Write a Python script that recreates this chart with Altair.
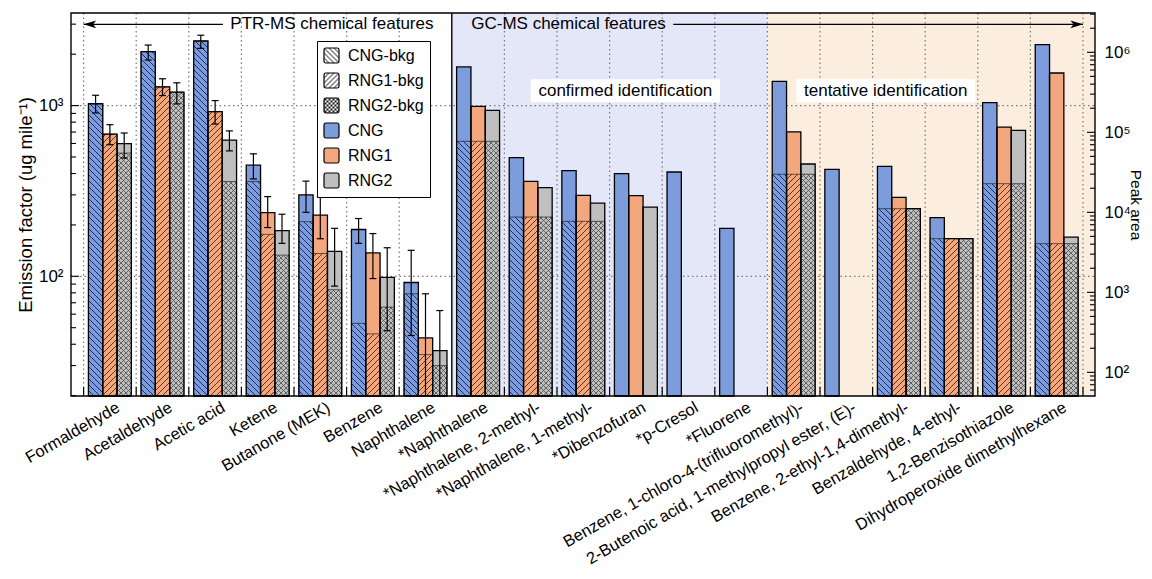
import json
import altair as alt
import pandas as pd
import jinja2

FONT = "Liberation Sans"

# ---------------- data ----------------
ptr_names = ["Formaldehyde", "Acetaldehyde", "Acetic acid", "Ketene",
             "Butanone (MEK)", "Benzene", "Naphthalene"]
gc_names = ["*Naphthalene", "*Naphthalene, 2-methyl-", "*Naphthalene, 1-methyl-",
            "*Dibenzofuran", "*p-Cresol", "*Fluorene",
            "Benzene, 1-chloro-4-(trifluoromethyl)-",
            "2-Butenoic acid, 1-methylpropyl ester, (E)-",
            "Benzene, 2-ethyl-1,4-dimethyl-", "Benzaldehyde, 4-ethyl-",
            "1,2-Benzisothiazole", "Dihydroperoxide dimethylhexane"]
series_names = ["CNG", "RNG1", "RNG2"]
legend_entries = ["CNG-bkg", "RNG1-bkg", "RNG2-bkg", "CNG", "RNG1", "RNG2"]

# PTR-MS emission factors (ug mile^-1): bar top, error-bar ends, background part
cng_ef = [1025, 2070, 2390, 448, 300, 188, 92]
rng1_ef = [681, 1288, 922, 236, 228, 137, 43.6]
rng2_ef = [598, 1198, 628, 185, 140, 98.7, 36.7]
cng_ef_lo = [906, 1848, 2165, 372, 237, 156, 45]
cng_ef_hi = [1150, 2263, 2584, 522, 361, 218, 142]
rng1_ef_lo = [590, 1145, 780, 193, 166, 97, 12]
rng1_ef_hi = [773, 1436, 1070, 293, 293, 178, 79]
rng2_ef_lo = [493, 1023, 543, 156, 87.6, 48, 12]
rng2_ef_hi = [691, 1360, 711, 231, 191, 147, 63]
cng_ef_bkg = [1025, 2070, 2390, 359, 209, 53, 79]
rng1_ef_bkg = [681, 1288, 922, 176, 136, 46, 34.8]
rng2_ef_bkg = [527, 1198, 359, 133, 83.5, 66, 30]

# GC-MS peak areas (None = not detected) and background peak area per feature
cng_pa = [6.56e5, 4.83e4, 3.32e4, 3.05e4, 3.19e4, 6.31e3, 4.34e5, 3.45e4, 3.76e4, 8.58e3, 2.35e5, 1.25e6]
rng1_pa = [2.11e5, 2.44e4, 1.63e4, 1.62e4, None, None, 1.01e5, None, 1.54e4, 4.69e3, 1.16e5, 5.51e5]
rng2_pa = [1.88e5, 2.04e4, 1.30e4, 1.16e4, None, None, 4.02e4, None, 1.11e4, 4.69e3, 1.06e5, 4.91e3]
bkg_pa = [7.72e4, 8.74e3, 7.72e3, None, None, None, 2.99e4, None, 1.11e4, 4.69e3, 2.28e4, 4.06e3]

left_major = [100, 1000]
right_major = [100, 1000, 10000, 100000, 1000000]

# ---------------- layout / style ----------------
W, H = 1024, 383
BAND = 52.6
XMIN = -0.5 - 12.6 / BAND
XMAX = XMIN + W / BAND
BW = 0.272
EF_DOMAIN = [19.9, 3487]
PA_DOMAIN = [50.6, 3.1e6]
ARROW_Y = 11.3

n_ptr = len(ptr_names)
n_conf = sum(1 for n in gc_names if n.startswith("*"))
all_names = ptr_names + gc_names
n_all = len(all_names)

POW_EXPR = "'10' + ['\u2070','\u00b9','\u00b2','\u00b3','\u2074','\u2075','\u2076'][round(log(datum.value)/LN10)]"

xs = alt.Scale(domain=[XMIN, XMAX], nice=False, zero=False)
ys_l = alt.Scale(type="log", domain=EF_DOMAIN, nice=False)
ys_r = alt.Scale(type="log", domain=PA_DOMAIN, nice=False)

X_AXIS = alt.Axis(values=list(range(n_all)), labelExpr=json.dumps(all_names) + "[datum.value]",
                  labelAngle=-30, labelAlign="right", labelBaseline="top", labelPadding=3,
                  labelOffset=4, ticks=False, grid=False, domain=False, title=None,
                  labelOverlap=False, labelFlush=False, labelBound=False, labelLimit=0,
                  labelFontSize=16.5)
L_AXIS = alt.Axis(orient="left", values=left_major, labelExpr=POW_EXPR,
                  title="Emission factor (ug mile\u207b\u00b9)", ticks=False, grid=False,
                  domain=False, labelPadding=8, titlePadding=3, titleFontSize=18.5)
R_AXIS = alt.Axis(orient="right", values=right_major, labelExpr=POW_EXPR, title="Peak area",
                  titleAngle=90, ticks=False, grid=False, domain=False, labelPadding=9,
                  titleX=40, titleY=H / 2, titleAlign="center", titleBaseline="middle",
                  titleFontSize=15.5)


def XQ(f):
    return alt.X(f"{f}:Q", scale=xs, axis=X_AXIS)


def YL(f):
    return alt.Y(f"{f}:Q", scale=ys_l, axis=L_AXIS)


def YR(f):
    return alt.Y(f"{f}:Q", scale=ys_r, axis=R_AXIS)


SOLID_EXPR = ("datum.series === 'CNG' ? '#7d9cdb' : "
              "(datum.series === 'RNG1' ? '#f3a77f' : '#bfbfbf')")
HATCH_EXPR = "'url(#hatch-' + lower(datum.series) + ')'"
legend_fills = ["url(#lg-cng)", "url(#lg-rng1)", "url(#lg-rng2)",
                "#7d9cdb", "#f3a77f", "#bfbfbf"]
ROUND_SQ = ("M-0.75,-1H0.75Q1,-1 1,-0.75V0.75Q1,1 0.75,1H-0.75"
            "Q-1,1 -1,0.75V-0.75Q-1,-1 -0.75,-1Z")

# ---------------- tables ----------------
ef = [cng_ef, rng1_ef, rng2_ef]
ef_lo = [cng_ef_lo, rng1_ef_lo, rng2_ef_lo]
ef_hi = [cng_ef_hi, rng1_ef_hi, rng2_ef_hi]
ef_bkg = [cng_ef_bkg, rng1_ef_bkg, rng2_ef_bkg]
ptr_rows = []
for i in range(n_ptr):
    for k, s in enumerate(series_names):
        ptr_rows.append({"idx": i, "k": k, "series": s, "value": ef[k][i],
                         "lo": ef_lo[k][i], "hi": ef_hi[k][i], "bkg": ef_bkg[k][i]})
ptr_df = pd.DataFrame(ptr_rows)

pa = [cng_pa, rng1_pa, rng2_pa]
gc_rows = []
for j in range(len(gc_names)):
    for k, s in enumerate(series_names):
        v = pa[k][j]
        if v is None:
            continue
        b = bkg_pa[j]
        gc_rows.append({"idx": n_ptr + j, "k": k, "series": s, "value": v,
                        "bkg": (min(b, v) if b is not None else None)})
gc_df = pd.DataFrame(gc_rows)


def minor(lo, hi):
    return [m * 10 ** e for e in range(0, 8) for m in range(2, 10) if lo <= m * 10 ** e <= hi]


one = pd.DataFrame({"a": [0]})


def bar_layers(df, Y):
    base = alt.Chart(df).transform_calculate(
        xl=f"datum.idx + (datum.k - 1) * {BW} - {BW / 2}",
        xr=f"datum.idx + (datum.k - 1) * {BW} + {BW / 2}",
        solid=SOLID_EXPR,
        hatch=HATCH_EXPR,
    )
    x2e = alt.X2("xr:Q")
    solid = base.mark_rect().encode(
        x=XQ("xl"), x2=x2e, y=Y("value"), y2=alt.value(H),
        fill=alt.Fill("solid:N", scale=None))
    hatch = base.transform_filter("isValid(datum.bkg)").mark_rect(
        stroke="#1a1a1a", strokeWidth=0.8, strokeOpacity=0.8).encode(
        x=XQ("xl"), x2=x2e, y=Y("bkg"), y2=alt.value(H),
        fill=alt.Fill("hatch:N", scale=None))
    outline = base.mark_rect(fillOpacity=0, stroke="black", strokeWidth=1.3).encode(
        x=XQ("xl"), x2=x2e, y=Y("value"), y2=alt.value(H))
    return [solid, hatch, outline]


# ---------------- background / decoration ----------------
shade_conf = alt.Chart(one).mark_rect(color="#e4e7f8").encode(
    x=XQ("x0"), x2="x1:Q", y=alt.value(0), y2=alt.value(H)
).transform_calculate(x0=f"{n_ptr - 0.5}", x1=f"{n_ptr + n_conf - 0.5}")
shade_tent = alt.Chart(one).mark_rect(color="#fbeede").encode(
    x=XQ("x0"), x2=alt.value(W), y=alt.value(0), y2=alt.value(H)
).transform_calculate(x0=f"{n_ptr + n_conf - 0.5}")

hgrid = alt.Chart(pd.DataFrame({"v": left_major})).mark_rule(
    color="#777", strokeDash=[1.5, 3], strokeWidth=1.2).encode(
    y=YL("v"), x=alt.value(0), x2=alt.value(W))

bounds = [i - 0.5 for i in range(n_all + 1) if i != n_ptr]
vgrid = alt.Chart(pd.DataFrame({"b": bounds})).mark_rule(
    color="#777", strokeDash=[1.5, 3], strokeWidth=1.2).encode(
    x=XQ("b"), y=alt.value(0), y2=alt.value(H))
bticks = alt.Chart(pd.DataFrame({"b": bounds})).mark_rule(color="black", strokeWidth=1.2).encode(
    x=XQ("b"), y=alt.value(H - 9), y2=alt.value(H))
divider = alt.Chart(one).mark_rule(color="black", strokeWidth=1.4).encode(
    x=XQ("d"), y=alt.value(0), y2=alt.value(H)
).transform_calculate(d=f"{n_ptr - 0.5}")

ann_df = pd.DataFrame({"label": ["confirmed identification", "tentative identification"],
                       "x0": [8.0, 13.05], "x1": [11.6, 16.45], "xc": [9.8, 14.75]})
ann_box = alt.Chart(ann_df).mark_rect(color="white").encode(
    x=XQ("x0"), x2="x1:Q", y=alt.value(66.3), y2=alt.value(89.3))
ann_text = alt.Chart(ann_df).mark_text(fontSize=17, color="black", baseline="middle").encode(
    x=XQ("xc"), y=alt.value(78), text="label:N")

feat_df = pd.DataFrame({"label": ["PTR-MS chemical features", "GC-MS chemical features"],
                        "xt": [2.29, 6.87], "x0": [-0.5, 10.71], "x1": [2.15, n_all - 0.5]})
feat_text = alt.Chart(feat_df).mark_text(fontSize=17, color="black", align="left", baseline="middle").encode(
    x=XQ("xt"), y=alt.value(ARROW_Y), text="label:N")
feat_line = alt.Chart(feat_df).mark_rule(color="black", strokeWidth=1.3).encode(
    x=XQ("x0"), x2="x1:Q", y=alt.value(ARROW_Y))
head_l = alt.Chart(feat_df.iloc[[0]]).mark_point(
    shape="M0,0L1.8,-0.55L1.35,0L1.8,0.55Z", filled=True, size=196, color="black", opacity=1).encode(
    x=XQ("x0"), y=alt.value(ARROW_Y))
head_r = alt.Chart(feat_df.iloc[[1]]).mark_point(
    shape="M0,0L-1.8,-0.55L-1.35,0L-1.8,0.55Z", filled=True, size=196, color="black", opacity=1).encode(
    x=XQ("x1"), y=alt.value(ARROW_Y))

# error bars (PTR-MS only)
err_base = alt.Chart(ptr_df).transform_calculate(xc=f"datum.idx + (datum.k - 1) * {BW}")
err_rule = err_base.mark_rule(color="black", strokeWidth=1.2, clip=True).encode(
    x=XQ("xc"), y=YL("lo"), y2="hi:Q")
cap_lo = err_base.mark_tick(orient="horizontal", color="black", thickness=1.2, size=7,
                            clip=True, opacity=1).encode(x=XQ("xc"), y=YL("lo"))
cap_hi = err_base.mark_tick(orient="horizontal", color="black", thickness=1.2, size=7,
                            clip=True, opacity=1).encode(x=XQ("xc"), y=YL("hi"))

# inward axis ticks
ltick_major = alt.Chart(pd.DataFrame({"v": left_major})).mark_rule(color="black", strokeWidth=1.1).encode(
    y=YL("v"), x=alt.value(0), x2=alt.value(8))
ltick_minor = alt.Chart(pd.DataFrame({"v": minor(*EF_DOMAIN)})).mark_rule(color="black", strokeWidth=1.1).encode(
    y=YL("v"), x=alt.value(0), x2=alt.value(5))
rtick_major = alt.Chart(pd.DataFrame({"v": right_major})).mark_rule(color="black", strokeWidth=1.1).encode(
    y=YR("v"), x=alt.value(W - 8), x2=alt.value(W))
rtick_minor = alt.Chart(pd.DataFrame({"v": minor(*PA_DOMAIN)})).mark_rule(color="black", strokeWidth=1.1).encode(
    y=YR("v"), x=alt.value(W - 5), x2=alt.value(W))

frame = alt.Chart(one).mark_rect(fillOpacity=0, stroke="black", strokeWidth=1.4).encode(
    x=alt.value(0), x2=alt.value(W), y=alt.value(0), y2=alt.value(H))

legend_layer = alt.Chart(pd.DataFrame({"entry": legend_entries})).mark_point(
    filled=True, clip=True).encode(
    x=alt.value(-2000), y=alt.value(-2000),
    color=alt.Color("entry:N", scale=alt.Scale(domain=legend_entries, range=legend_fills),
                    legend=alt.Legend(title=None, orient="none", legendX=246, legendY=28,
                                      symbolType=ROUND_SQ, symbolSize=225,
                                      symbolStrokeColor="black", symbolStrokeWidth=1.2,
                                      symbolOpacity=1, labelFontSize=16, labelFont=FONT,
                                      labelColor="black", labelOffset=8, padding=6,
                                      rowPadding=4, strokeColor="black", fillColor="white",
                                      cornerRadius=0)))

left = alt.layer(shade_conf, shade_tent, hgrid, vgrid, divider, ann_box, ann_text,
                 *bar_layers(ptr_df, YL), err_rule, cap_lo, cap_hi,
                 ltick_major, ltick_minor, bticks, feat_line, head_l, head_r, feat_text,
                 legend_layer)
right = alt.layer(*bar_layers(gc_df, YR), rtick_major, rtick_minor, frame)

chart = alt.layer(left, right).resolve_scale(y="independent").properties(
    width=W, height=H,
    autosize=alt.AutoSizeParams(type="none"),
    padding={"left": 63, "top": 5, "right": 49, "bottom": 175},
).configure(font=FONT).configure_view(stroke="transparent").configure_axis(
    labelFont=FONT, titleFont=FONT, labelFontSize=17, titleFontSize=17,
    labelColor="black", titleColor="black", titleFontWeight="normal")

# hatch patterns referenced by the bar / legend fills
HATCH_SVG = """
<svg width="0" height="0" style="position:absolute;left:0;top:0" aria-hidden="true">
 <defs>
  <pattern id="hatch-cng" patternUnits="userSpaceOnUse" width="6" height="6">
   <rect width="6" height="6" fill="#7d9cdb"/>
   <path d="M-1,-1L7,7M-1,5L1,7M5,-1L7,1" stroke="#1d2b6b" stroke-width="1"/>
  </pattern>
  <pattern id="hatch-rng1" patternUnits="userSpaceOnUse" width="6" height="6">
   <rect width="6" height="6" fill="#f3a77f"/>
   <path d="M-1,7L7,-1M-1,1L1,-1M5,7L7,5" stroke="#6e300c" stroke-width="1"/>
  </pattern>
  <pattern id="hatch-rng2" patternUnits="userSpaceOnUse" width="5" height="5">
   <rect width="5" height="5" fill="#bfbfbf"/>
   <path d="M-1,-1L6,6M-1,4L1,6M4,-1L6,1M-1,6L6,-1M-1,1L1,-1M4,6L6,4" stroke="#4a4a4a" stroke-width="0.8"/>
  </pattern>
  <pattern id="lg-cng" patternUnits="userSpaceOnUse" width="5" height="5">
   <rect width="5" height="5" fill="white"/>
   <path d="M-1,-1L6,6M-1,4L1,6M4,-1L6,1" stroke="black" stroke-width="1"/>
  </pattern>
  <pattern id="lg-rng1" patternUnits="userSpaceOnUse" width="5" height="5">
   <rect width="5" height="5" fill="white"/>
   <path d="M-1,6L6,-1M-1,1L1,-1M4,6L6,4" stroke="black" stroke-width="1"/>
  </pattern>
  <pattern id="lg-rng2" patternUnits="userSpaceOnUse" width="4" height="4">
   <rect width="4" height="4" fill="white"/>
   <path d="M-1,-1L5,5M-1,3L1,5M3,-1L5,1M-1,5L5,-1M-1,1L1,-1M3,5L5,3" stroke="black" stroke-width="0.9"/>
  </pattern>
 </defs>
</svg>
"""

TEMPLATE = jinja2.Template("""<!DOCTYPE html>
<html>
<head>
  <meta charset="utf-8">
  <style>
    #{{ output_div }}.vega-embed { width: 100%; display: flex; }
    #{{ output_div }}.vega-embed details,
    #{{ output_div }}.vega-embed details summary { position: relative; }
  </style>
  <script type="text/javascript" src="{{ base_url }}/vega@{{ vega_version }}"></script>
  <script type="text/javascript" src="{{ base_url }}/vega-lite@{{ vegalite_version }}"></script>
  <script type="text/javascript" src="{{ base_url }}/vega-embed@{{ vegaembed_version }}"></script>
</head>
<body>
""" + HATCH_SVG + """
  <div id="{{ output_div }}"></div>
  <script>
    (function(vegaEmbed) {
      var spec = {{ spec }};
      var embedOpt = {{ embed_options }};
      function showError(el, error){
          el.innerHTML = ('<div style="color:red;"><p>JavaScript Error: ' + error.message + '</p></div>');
          throw error;
      }
      const el = document.getElementById('{{ output_div }}');
      vegaEmbed("#{{ output_div }}", spec, embedOpt).catch(error => showError(el, error));
    })(vegaEmbed);
  </script>
</body>
</html>
""")

chart.save("out.html", embed_options={"renderer": "svg", "actions": False}, template=TEMPLATE)
